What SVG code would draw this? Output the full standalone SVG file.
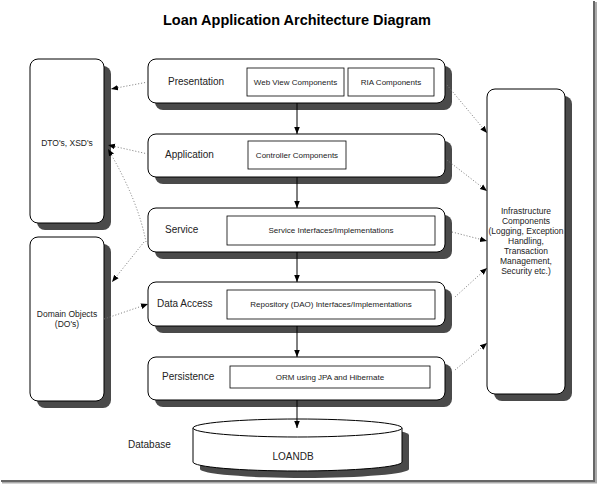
<svg xmlns="http://www.w3.org/2000/svg" width="598" height="484" viewBox="0 0 598 484">
<defs>
<style>
.box{fill:#fff;stroke:#000;stroke-width:1}
.shd{fill:#4a4a4a;stroke:none}
.inner{fill:#fff;stroke:#000;stroke-width:0.8}
.lbl{font-family:"Liberation Sans",Arial,sans-serif;font-size:10px;fill:#222}
.sm{font-family:"Liberation Sans",Arial,sans-serif;font-size:8px;fill:#222;text-anchor:middle}
.side{font-family:"Liberation Sans",Arial,sans-serif;font-size:8.5px;fill:#222;text-anchor:middle}
.solid{stroke:#000;stroke-width:1;fill:none;marker-end:url(#ah)}
.dot{stroke:#777;stroke-width:1;stroke-dasharray:1 2;fill:none;marker-end:url(#ah)}
</style>
<marker id="ah" viewBox="0 0 10 10" refX="10" refY="5" markerWidth="7" markerHeight="7" markerUnits="userSpaceOnUse" orient="auto">
<path d="M0,1 L10,5 L0,9 Z" fill="#000"/>
</marker>
</defs>
<rect width="598" height="484" fill="#fff"/>
<rect x="593" y="1" width="2" height="482" fill="#666"/>
<rect x="595" y="2" width="2" height="481" fill="#aaa"/>
<rect x="1" y="480" width="594" height="2" fill="#666"/>
<rect x="2" y="482" width="595" height="1.5" fill="#aaa"/>

<text x="297" y="25" font-family="'Liberation Sans',Arial,sans-serif" font-size="14.5" font-weight="bold" text-anchor="middle">Loan Application Architecture Diagram</text>

<g id="dtos">
<rect class="shd" x="37" y="66" width="74" height="164" rx="8"/>
<rect class="box" x="30" y="59" width="74" height="164" rx="8"/>
<text class="side" x="67" y="146">DTO's, XSD's</text>
</g>
<g id="domain">
<rect class="shd" x="37" y="244" width="74" height="164" rx="8"/>
<rect class="box" x="30" y="237" width="74" height="164" rx="8"/>
<text class="side" x="67" y="317">Domain Objects</text>
<text class="side" x="67" y="327">(DO's)</text>
</g>
<g id="infrastructure">
<rect class="shd" x="494" y="96" width="78" height="305" rx="8"/>
<rect class="box" x="487" y="89" width="78" height="305" rx="8"/>
<text class="side" x="526" y="214">Infrastructure</text>
<text class="side" x="526" y="224">Components</text>
<text class="side" x="526" y="234">(Logging, Exception</text>
<text class="side" x="526" y="244">Handling,</text>
<text class="side" x="526" y="254">Transaction</text>
<text class="side" x="526" y="264">Management,</text>
<text class="side" x="526" y="274">Security etc.)</text>
</g>

<g id="presentation">
<rect class="shd" x="155" y="66" width="297" height="44" rx="8"/>
<rect class="box" x="148" y="59" width="297" height="44" rx="8"/>
<text class="lbl" x="168" y="85">Presentation</text>
<rect class="inner" x="247" y="68" width="97" height="28"/>
<text class="sm" x="295.5" y="85">Web View Components</text>
<rect class="inner" x="348" y="68" width="86" height="28"/>
<text class="sm" x="391" y="85">RIA Components</text>
</g>
<g id="application">
<rect class="shd" x="155" y="141" width="297" height="43" rx="8"/>
<rect class="box" x="148" y="134" width="297" height="43" rx="8"/>
<text class="lbl" x="165" y="158">Application</text>
<rect class="inner" x="248" y="141" width="98" height="28"/>
<text class="sm" x="297" y="158">Controller Components</text>
</g>
<g id="service">
<rect class="shd" x="155" y="215" width="297" height="44" rx="8"/>
<rect class="box" x="148" y="208" width="297" height="44" rx="8"/>
<text class="lbl" x="165" y="233">Service</text>
<rect class="inner" x="227" y="216" width="208" height="29"/>
<text class="sm" x="331" y="233">Service Interfaces/Implementations</text>
</g>
<g id="dataaccess">
<rect class="shd" x="155" y="289" width="297" height="44" rx="8"/>
<rect class="box" x="148" y="282" width="297" height="44" rx="8"/>
<text class="lbl" x="157" y="307">Data Access</text>
<rect class="inner" x="227" y="290" width="208" height="29"/>
<text class="sm" x="331" y="307">Repository (DAO) Interfaces/Implementations</text>
</g>
<g id="persistence">
<rect class="shd" x="155" y="364" width="297" height="43" rx="8"/>
<rect class="box" x="148" y="357" width="297" height="43" rx="8"/>
<text class="lbl" x="162" y="380">Persistence</text>
<rect class="inner" x="230" y="366" width="200" height="22"/>
<text class="sm" x="330" y="380">ORM using JPA and Hibernate</text>
</g>
<g id="database">
<path class="shd" d="M200,435 A104.5,9 0 0 1 409,435 L409,469 A104.5,9 0 0 1 200,469 Z"/>
<path class="box" d="M193,428 L193,462 A104.5,9 0 0 0 402,462 L402,428"/>
<ellipse class="box" cx="297.5" cy="428" rx="104.5" ry="9"/>
<text class="lbl" x="293" y="460" text-anchor="middle">LOANDB</text>
<text class="lbl" x="128" y="448">Database</text>
</g>

<g id="connectors">
<line class="solid" x1="297" y1="103" x2="297" y2="134"/>
<line class="solid" x1="297" y1="177" x2="297" y2="208"/>
<line class="solid" x1="297" y1="252" x2="297" y2="282"/>
<line class="solid" x1="297" y1="326" x2="297" y2="357"/>
<line class="solid" x1="297" y1="400" x2="297" y2="428"/>
<line class="dot" x1="148" y1="82" x2="111" y2="89"/>
<line class="dot" x1="148" y1="154" x2="108" y2="145"/>
<path class="dot" d="M146,242 Q138,200 108,149"/>
<line class="dot" x1="144" y1="242" x2="112" y2="282"/>
<line class="dot" x1="104" y1="319" x2="148" y2="304"/>
<line class="dot" x1="447" y1="85" x2="487" y2="133"/>
<line class="dot" x1="447" y1="160" x2="487" y2="191"/>
<line class="dot" x1="452" y1="232" x2="487" y2="241"/>
<line class="dot" x1="455" y1="297" x2="487" y2="268"/>
<line class="dot" x1="455" y1="370" x2="487" y2="343"/>
</g>
</svg>
